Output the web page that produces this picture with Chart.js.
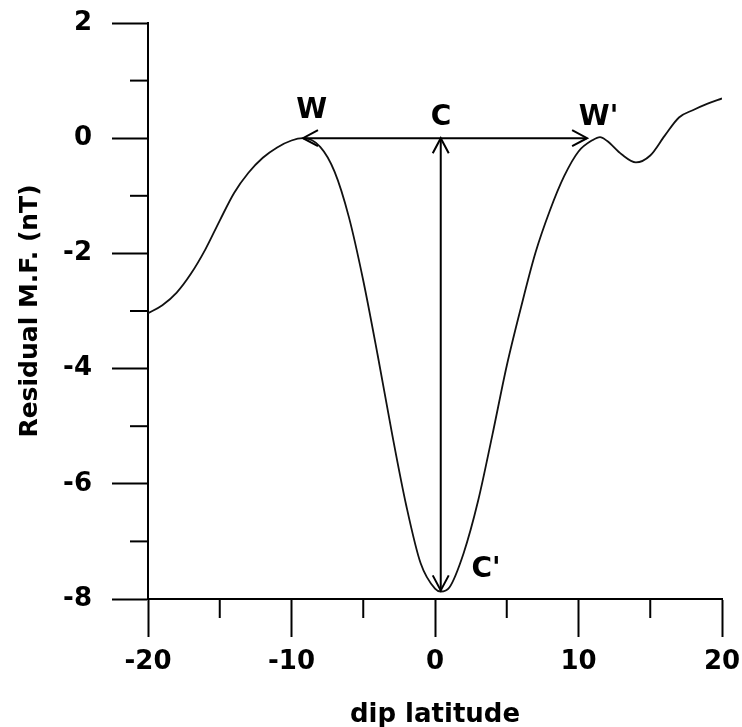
<!DOCTYPE html>
<html><head><meta charset="utf-8">
<script src="https://cdn.jsdelivr.net/npm/chart.js@4.4.0/dist/chart.umd.min.js"></script>
<style>html,body{margin:0;padding:0;background:#fff;} #wrap{width:742px;height:727px;}</style>
</head><body><div id="wrap"><canvas id="c" width="742" height="727"></canvas></div>
<script>
// ---- data ----
const latitudes = [-20,-19,-18,-17,-16,-15,-14,-13,-12,-11,-10,-9.2,-8,-7,-6,-5,-4,-3,-2,-1,0,0.4,1,2,3,4,5,6,7,8,9,10,11,11.5,12,13,14,15,16,17,18,19,20];
const residual  = [-3.04,-2.90,-2.68,-2.35,-1.93,-1.43,-0.95,-0.60,-0.34,-0.16,-0.04,0.0,-0.15,-0.58,-1.37,-2.47,-3.76,-5.12,-6.38,-7.38,-7.82,-7.87,-7.80,-7.20,-6.30,-5.15,-3.95,-2.93,-1.99,-1.26,-0.66,-0.23,-0.03,0.02,-0.05,-0.28,-0.42,-0.30,0.04,0.36,0.49,0.60,0.69];
const xMinorTicks = [-15,-5,5,15];
const yMinorTicks = [1,-1,-3,-5,-7];
const arrowWW = [[-9.2,0],[10.6,0]];
const arrowCC = [[0.4,0],[0.4,-7.85]];
const labelText = ['W','C',"W'","C'"];
const labelX = [-8.6,0.42,11.4,3.55];
const labelY = [0.47,0.35,0.35,-7.5];

const FONT = "'DejaVu Sans', sans-serif";

function line(ctx,x1,y1,x2,y2){ctx.beginPath();ctx.moveTo(x1,y1);ctx.lineTo(x2,y2);ctx.stroke();}
function head(ctx,tx,ty,fx,fy){
  const a=Math.atan2(ty-fy,tx-fx), L=15, W=8;
  const bx=tx-L*Math.cos(a), by=ty-L*Math.sin(a);
  const nx=-Math.sin(a), ny=Math.cos(a);
  ctx.beginPath();
  ctx.moveTo(bx+nx*W,by+ny*W); ctx.lineTo(tx,ty); ctx.lineTo(bx-nx*W,by-ny*W);
  ctx.stroke();
}
function dblArrow(ctx,xs,ys,p){
  const x1=xs.getPixelForValue(p[0][0]), y1=ys.getPixelForValue(p[0][1]);
  const x2=xs.getPixelForValue(p[1][0]), y2=ys.getPixelForValue(p[1][1]);
  line(ctx,x1,y1,x2,y2); head(ctx,x1,y1,x2,y2); head(ctx,x2,y2,x1,y1);
}

const overlay = {
  id:'overlay',
  afterDatasetsDraw(chart){
    const {ctx, scales:{x, y}} = chart;
    ctx.save();
    ctx.strokeStyle='#000'; ctx.lineWidth=2; ctx.lineCap='butt';
    yMinorTicks.forEach(v=>{const py=y.getPixelForValue(v); line(ctx,x.left-18,py,x.left,py);});
    xMinorTicks.forEach(v=>{const px=x.getPixelForValue(v); line(ctx,px,y.bottom,px,y.bottom+19);});
    dblArrow(ctx,x,y,arrowWW);
    dblArrow(ctx,x,y,arrowCC);
    ctx.fillStyle='#000';
    ctx.font="bold 28px "+FONT;
    ctx.textAlign='center'; ctx.textBaseline='middle';
    labelText.forEach((t,i)=>ctx.fillText(t,x.getPixelForValue(labelX[i]),y.getPixelForValue(labelY[i])));
    ctx.restore();
  }
};

new Chart(document.getElementById('c'), {
  type:'line',
  data:{datasets:[{
    data: latitudes.map((v,i)=>({x:v, y:residual[i]})),
    borderColor:'#111', borderWidth:1.8, pointRadius:0,
    cubicInterpolationMode:'monotone', fill:false
  }]},
  options:{
    responsive:false, animation:false, devicePixelRatio:1,
    layout:{padding:{top:23,right:20,left:0,bottom:0}},
    plugins:{legend:{display:false}, tooltip:{enabled:false}},
    scales:{
      x:{
        type:'linear', min:-20, max:20,
        ticks:{stepSize:10, color:'#000', font:{family:FONT,size:26,weight:'bold'}, padding:10, maxRotation:0},
        grid:{drawOnChartArea:false, drawTicks:true, tickLength:38, tickWidth:2, tickColor:'#000'},
        border:{display:true, color:'#000', width:2},
        title:{display:true, text:'dip latitude', color:'#000', font:{family:FONT,size:26,weight:'bold'}, padding:{top:0,bottom:-4}},
        afterFit(s){ s.height = 128; s.paddingLeft = 0; s.paddingRight = 0; }
      },
      y:{
        min:-8, max:2,
        ticks:{stepSize:2, color:'#000', font:{family:FONT,size:26,weight:'bold'}, padding:20},
        grid:{drawOnChartArea:false, drawTicks:true, tickLength:36, tickWidth:2, tickColor:'#000'},
        border:{display:true, color:'#000', width:2},
        title:{display:true, text:'Residual M.F. (nT)', color:'#000', font:{family:FONT,size:25,weight:'bold'}, padding:{top:15,bottom:0}},
        afterFit(s){ s.width = 148; s.paddingTop = 0; s.paddingBottom = 0; }
      }
    }
  },
  plugins:[overlay]
});
</script>
</body></html>
